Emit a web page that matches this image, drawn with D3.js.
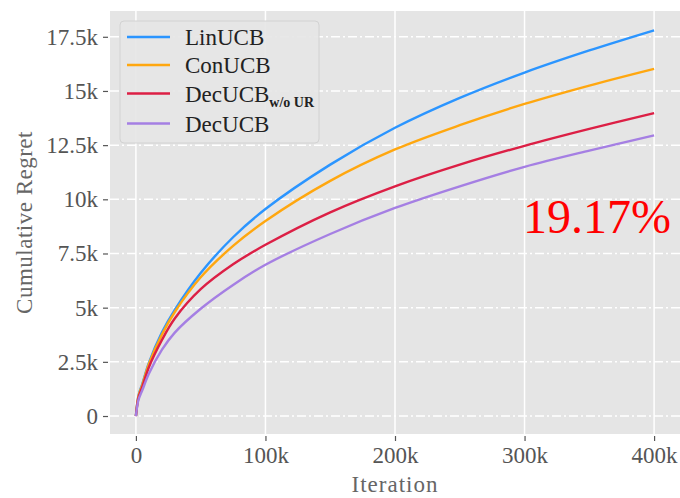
<!DOCTYPE html>
<html>
<head>
<meta charset="utf-8">
<script src="https://cdn.jsdelivr.net/npm/d3@7"></script>
<style>
  body { margin: 0; background: #fff; }
  svg text { font-family: "Liberation Serif", "DejaVu Serif", serif; }
</style>
</head>
<body>
<div class="regret"></div>
<script>
var iterations = [0, 2, 5, 10, 20, 30, 50, 75, 100, 150, 200, 250, 300, 350, 400];
// cumulative regret (in thousands)
var linUCB   = [0, 0.95, 1.5, 2.45, 3.85, 4.9, 6.6, 8.25, 9.55, 11.6, 13.3, 14.68, 15.85, 16.87, 17.8];
var conUCB   = [0, 0.92, 1.45, 2.4, 3.75, 4.8, 6.4, 7.85, 9.0, 10.85, 12.3, 13.42, 14.4, 15.25, 16.02];
var decUCBwo = [0, 0.85, 1.35, 2.25, 3.5, 4.5, 5.85, 7.0, 7.9, 9.4, 10.6, 11.6, 12.47, 13.25, 13.98];
var decUCB   = [0, 0.75, 1.2, 1.95, 3.05, 3.85, 4.95, 6.05, 6.98, 8.4, 9.6, 10.6, 11.5, 12.25, 12.95];
var seriesNames = ["LinUCB", "ConUCB", "DecUCB", "DecUCB"];
var seriesSubs = ["", "", "w/o UR", ""];
var xTicks = [0, 100000, 200000, 300000, 400000];
var xTickLabels = ["0", "100k", "200k", "300k", "400k"];
var yTicks = [0, 2500, 5000, 7500, 10000, 12500, 15000, 17500];
var yTickLabels = ["0", "2.5k", "5k", "7.5k", "10k", "12.5k", "15k", "17.5k"];
var improvement = "19.17%";

var colors = ["#2b95ff", "#ffa70f", "#dc1f45", "#a57fe3"];
var allSeries = [linUCB, conUCB, decUCBwo, decUCB];

var W = 680, H = 498;
var margin = {top: 11, right: 0, bottom: 64, left: 110};
var width = W - margin.left - margin.right,
    height = H - margin.top - margin.bottom;

var svg = d3.select(".regret").append("svg")
    .attr("width", W).attr("height", H);
var canvas = svg.append("g")
    .attr("transform", "translate(" + margin.left + "," + margin.top + ")");

var x = d3.scaleLinear().domain([-20000, 420000]).range([0, width]);
var y = d3.scaleLinear().domain([-830, 18690]).range([height, 0]);

canvas.append("rect").attr("width", width).attr("height", height).attr("fill", "#e5e5e5");

// grid
canvas.selectAll(".vgrid").data(xTicks).enter().append("line")
    .attr("x1", d => x(d)).attr("x2", d => x(d))
    .attr("y1", 0).attr("y2", height)
    .attr("stroke", "#fff").attr("stroke-width", 1.5);
canvas.selectAll(".hgrid").data(yTicks).enter().append("line")
    .attr("x1", 0).attr("x2", width)
    .attr("y1", d => y(d)).attr("y2", d => y(d))
    .attr("stroke", "#fff").attr("stroke-width", 1.5)
    .attr("stroke-dasharray", "9,3,2,3");

// axes
var xAxis = d3.axisBottom(x).tickValues(xTicks)
    .tickFormat((d, i) => xTickLabels[i]).tickSize(5).tickPadding(6);
var yAxis = d3.axisLeft(y).tickValues(yTicks)
    .tickFormat((d, i) => yTickLabels[i]).tickSize(5).tickPadding(5);

var gx = canvas.append("g").attr("transform", "translate(0," + (height + 2) + ")").call(xAxis);
var gy = canvas.append("g").attr("transform", "translate(-2,0)").call(yAxis);
[gx, gy].forEach(function(g) {
    g.select(".domain").remove();
    g.selectAll("line").attr("stroke", "#555").attr("stroke-width", 1.2);
    g.selectAll("text").attr("fill", "#555").style("font-size", "23px")
        .style("font-family", "Liberation Serif");
});

// curves
var line = d3.line()
    .x((d, i) => x(iterations[i] * 1000))
    .y(d => y(d * 1000))
    .curve(d3.curveCatmullRom.alpha(0.5));
allSeries.forEach(function(s, k) {
    canvas.append("path").datum(s)
        .attr("d", line).attr("fill", "none")
        .attr("stroke", colors[k]).attr("stroke-width", 2.4);
});

// axis titles
svg.append("text").attr("x", margin.left + width / 2).attr("y", 492)
    .attr("text-anchor", "middle").attr("fill", "#666")
    .style("font-size", "23px").style("letter-spacing", "1px").text("Iteration");
svg.append("text").attr("transform", "translate(32," + (margin.top + height / 2) + ") rotate(-90)")
    .attr("text-anchor", "middle").attr("fill", "#666")
    .style("font-size", "23px").style("letter-spacing", "0.5px").text("Cumulative Regret");

// legend
var legend = svg.append("g").attr("transform", "translate(120,21)");
legend.append("rect").attr("width", 199).attr("height", 122).attr("rx", 4)
    .attr("fill", "#e5e5e5").attr("fill-opacity", 0.9)
    .attr("stroke", "#d2d2d2").attr("stroke-width", 1);
var rowsY = [16, 44, 72.5, 102.5];
seriesNames.forEach(function(name, k) {
    legend.append("line").attr("x1", 7).attr("x2", 50)
        .attr("y1", rowsY[k]).attr("y2", rowsY[k])
        .attr("stroke", colors[k]).attr("stroke-width", 2.4);
    var t = legend.append("text").attr("x", 65).attr("y", rowsY[k] + 8)
        .attr("fill", "#222").style("font-size", "23px").text(name);
    if (seriesSubs[k]) {
        t.append("tspan").attr("dy", 5).style("font-size", "14px")
            .style("font-weight", "bold").text(seriesSubs[k]);
    }
});

// annotation
svg.append("text").attr("x", 523).attr("y", 233)
    .attr("fill", "#ff0000").style("font-size", "48px")
    .style("font-family", "Liberation Serif").text(improvement);
</script>
</body>
</html>
